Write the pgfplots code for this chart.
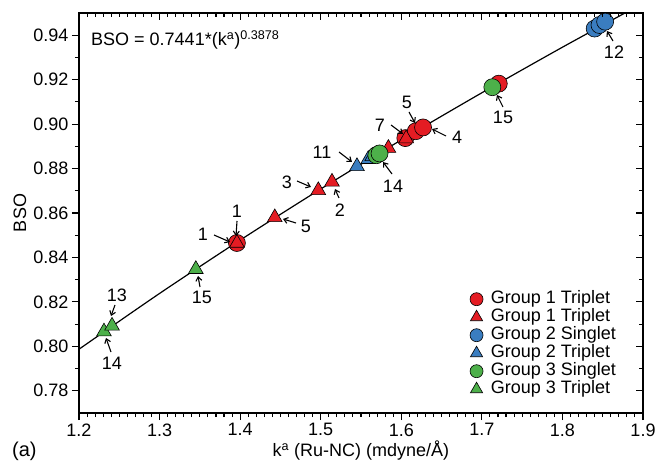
\documentclass[border=0pt]{standalone}
\usepackage{fontspec}
\setmainfont{Liberation Sans}
\usepackage{pgfplots}
\pgfplotsset{compat=1.18}
\usetikzlibrary{arrows.meta}
\definecolor{cred}{RGB}{228,28,35}
\definecolor{cblue}{RGB}{58,125,192}
\definecolor{cgreen}{RGB}{77,176,74}
\begin{document}
\begin{tikzpicture}
\pgfplotsset{
  common/.style={
    scale only axis, width=564pt, height=400pt,
    xmin=1.2, xmax=1.9, ymin=0.77, ymax=0.95,
    xtick={1.2,1.3,...,1.9}, ytick={0.78,0.80,...,0.945},
    minor x tick num=9, minor y tick num=1,
    major tick length=7pt, minor tick length=4pt,
    every tick/.style={black, line width=1.1pt},
    axis line style={line width=1.6pt},
  },
  circleg/.style={legend image code/.code={\path (0.3cm,0cm) ++(13pt,0pt); \draw[mark size=6.5pt] plot coordinates {(0.3cm,0cm)};}},
  trig/.style={legend image code/.code={\path (0.3cm,0cm) ++(13pt,0pt); \draw[mark size=7pt] plot coordinates {(0.3cm,0cm)};}},
}
\begin{axis}[common,
  tick align=outside, xtick pos=bottom, ytick pos=left,
  /pgf/number format/assume math mode=true,
  ticklabel style={font=\fontsize{18}{21}\selectfont},
  yticklabel style={/pgf/number format/.cd, fixed, fixed zerofill, precision=2},
  xticklabel style={/pgf/number format/.cd, fixed, fixed zerofill, precision=1},
  xlabel={k\textsuperscript{a} (Ru-NC) (mdyne/Å)},
  ylabel={BSO},
  label style={font=\fontsize{18}{21}\selectfont},
  xlabel style={at={(axis description cs:0.5,-0.095)}, anchor=center},
  ylabel style={at={(axis description cs:-0.1046,0.5)}, anchor=center},
  legend style={at={(axis description cs:0.693,0.3075)}, anchor=north west,
    draw=none, fill=none, inner sep=0pt, font=\fontsize{18}{21}\selectfont,
    nodes={text height=12.5pt, text depth=3.5pt, inner sep=1pt}, row sep=0pt},
  legend cell align=left,
  clip mode=individual,
]
\addplot[black, line width=1.2pt, smooth, forget plot] coordinates {
 (1.2,0.7987) (1.3,0.8238) (1.4,0.8478) (1.5,0.8708) (1.6,0.8929)
 (1.7,0.9141) (1.8,0.9346) (1.9,0.9544)};
% Group 1 Triplet circles
\addplot[only marks, mark=*, mark size=8.5pt, fill=cred, draw=black, line width=0.6pt, circleg]
 coordinates {(1.396,0.8465) (1.605,0.8937) (1.618,0.8968) (1.627,0.8985) (1.721,0.9182)};
\addlegendentry{Group 1 Triplet}
% Group 1 Triplet triangles
\addplot[only marks, mark=triangle*, mark size=8.5pt, fill=cred, draw=black, line width=0.6pt, trig]
 coordinates {(1.396,0.8465) (1.443,0.8580) (1.497,0.8702) (1.514,0.8740) (1.584,0.8892) (1.606,0.8935)};
\addlegendentry{Group 1 Triplet}
% Group 2 Singlet circles
\addplot[only marks, mark=*, mark size=8.5pt, fill=cblue, draw=black, line width=0.6pt, circleg]
 coordinates {(1.840,0.9430) (1.846,0.9446) (1.853,0.9461)};
\addlegendentry{Group 2 Singlet}
% Group 2 Triplet triangles
\addplot[only marks, mark=triangle*, mark size=8.5pt, fill=cblue, draw=black, line width=0.6pt, trig]
 coordinates {(1.545,0.8810) (1.559,0.8842) (1.564,0.8855)};
\addlegendentry{Group 2 Triplet}
% Group 3 Singlet circles
\addplot[only marks, mark=*, mark size=8.5pt, fill=cgreen, draw=black, line width=0.6pt, circleg]
 coordinates {(1.569,0.8860) (1.573,0.8868) (1.713,0.9166)};
\addlegendentry{Group 3 Singlet}
% Group 3 Triplet triangles
\addplot[only marks, mark=triangle*, mark size=8.5pt, fill=cgreen, draw=black, line width=0.6pt, trig]
 coordinates {(1.231,0.8066) (1.241,0.8092) (1.345,0.8347)};
\addlegendentry{Group 3 Triplet}
\end{axis}
\begin{axis}[common, tick align=inside, xtick pos=top, ytick pos=right,
  xticklabels={}, yticklabels={}, axis line style={draw=none}]
\end{axis}
\begin{scope}[shift={(-79pt,413pt)}, x=1pt, y=-1pt,
  every node/.style={font=\fontsize{18}{21}\selectfont, inner sep=0pt},
  arr/.style={-{Straight Barb[length=4pt,width=6pt]}, line width=1.1pt}]
\node[anchor=base west] at (91,46) {BSO = 0.7441*(k\textsuperscript{a})\textsuperscript{0.3878}};
\node[anchor=north west, font=\fontsize{20}{23}\selectfont] at (12,442) {(a)};
\node at (237,211) {1}; \draw[arr] (237,221) -- (236,236);
\node at (203,234) {1}; \draw[arr] (214,235) -- (230,242);
\node at (306,226) {5}; \draw[arr] (296,223) -- (283,219);
\node at (287,182) {3}; \draw[arr] (297,181) -- (311,187);
\node at (340,210) {2}; \draw[arr] (339,198) -- (335,189);
\node at (322,152) {11}; \draw[arr] (339,152) -- (352,162);
\node at (393,186) {14}; \draw[arr] (392,174) -- (383,162);
\node at (380,125) {7}; \draw[arr] (391,125) -- (403,134);
\node at (407,102) {5}; \draw[arr] (409,112) -- (415,123);
\node at (457,137) {4}; \draw[arr] (446,136) -- (432,129);
\node at (503,117) {15}; \draw[arr] (503,107) -- (497,95);
\node at (614,52) {12}; \draw[arr] (613,41) -- (607,31);
\node at (202,297) {15}; \draw[arr] (200,287) -- (198,276);
\node at (117,295) {13}; \draw[arr] (115,305) -- (111,316);
\node at (112,363) {14}; \draw[arr] (111,352) -- (106,338);
\end{scope}
\pgfresetboundingbox
\path[use as bounding box] (-79pt,-50pt) rectangle (579pt,413pt);
\end{tikzpicture}
\end{document}
